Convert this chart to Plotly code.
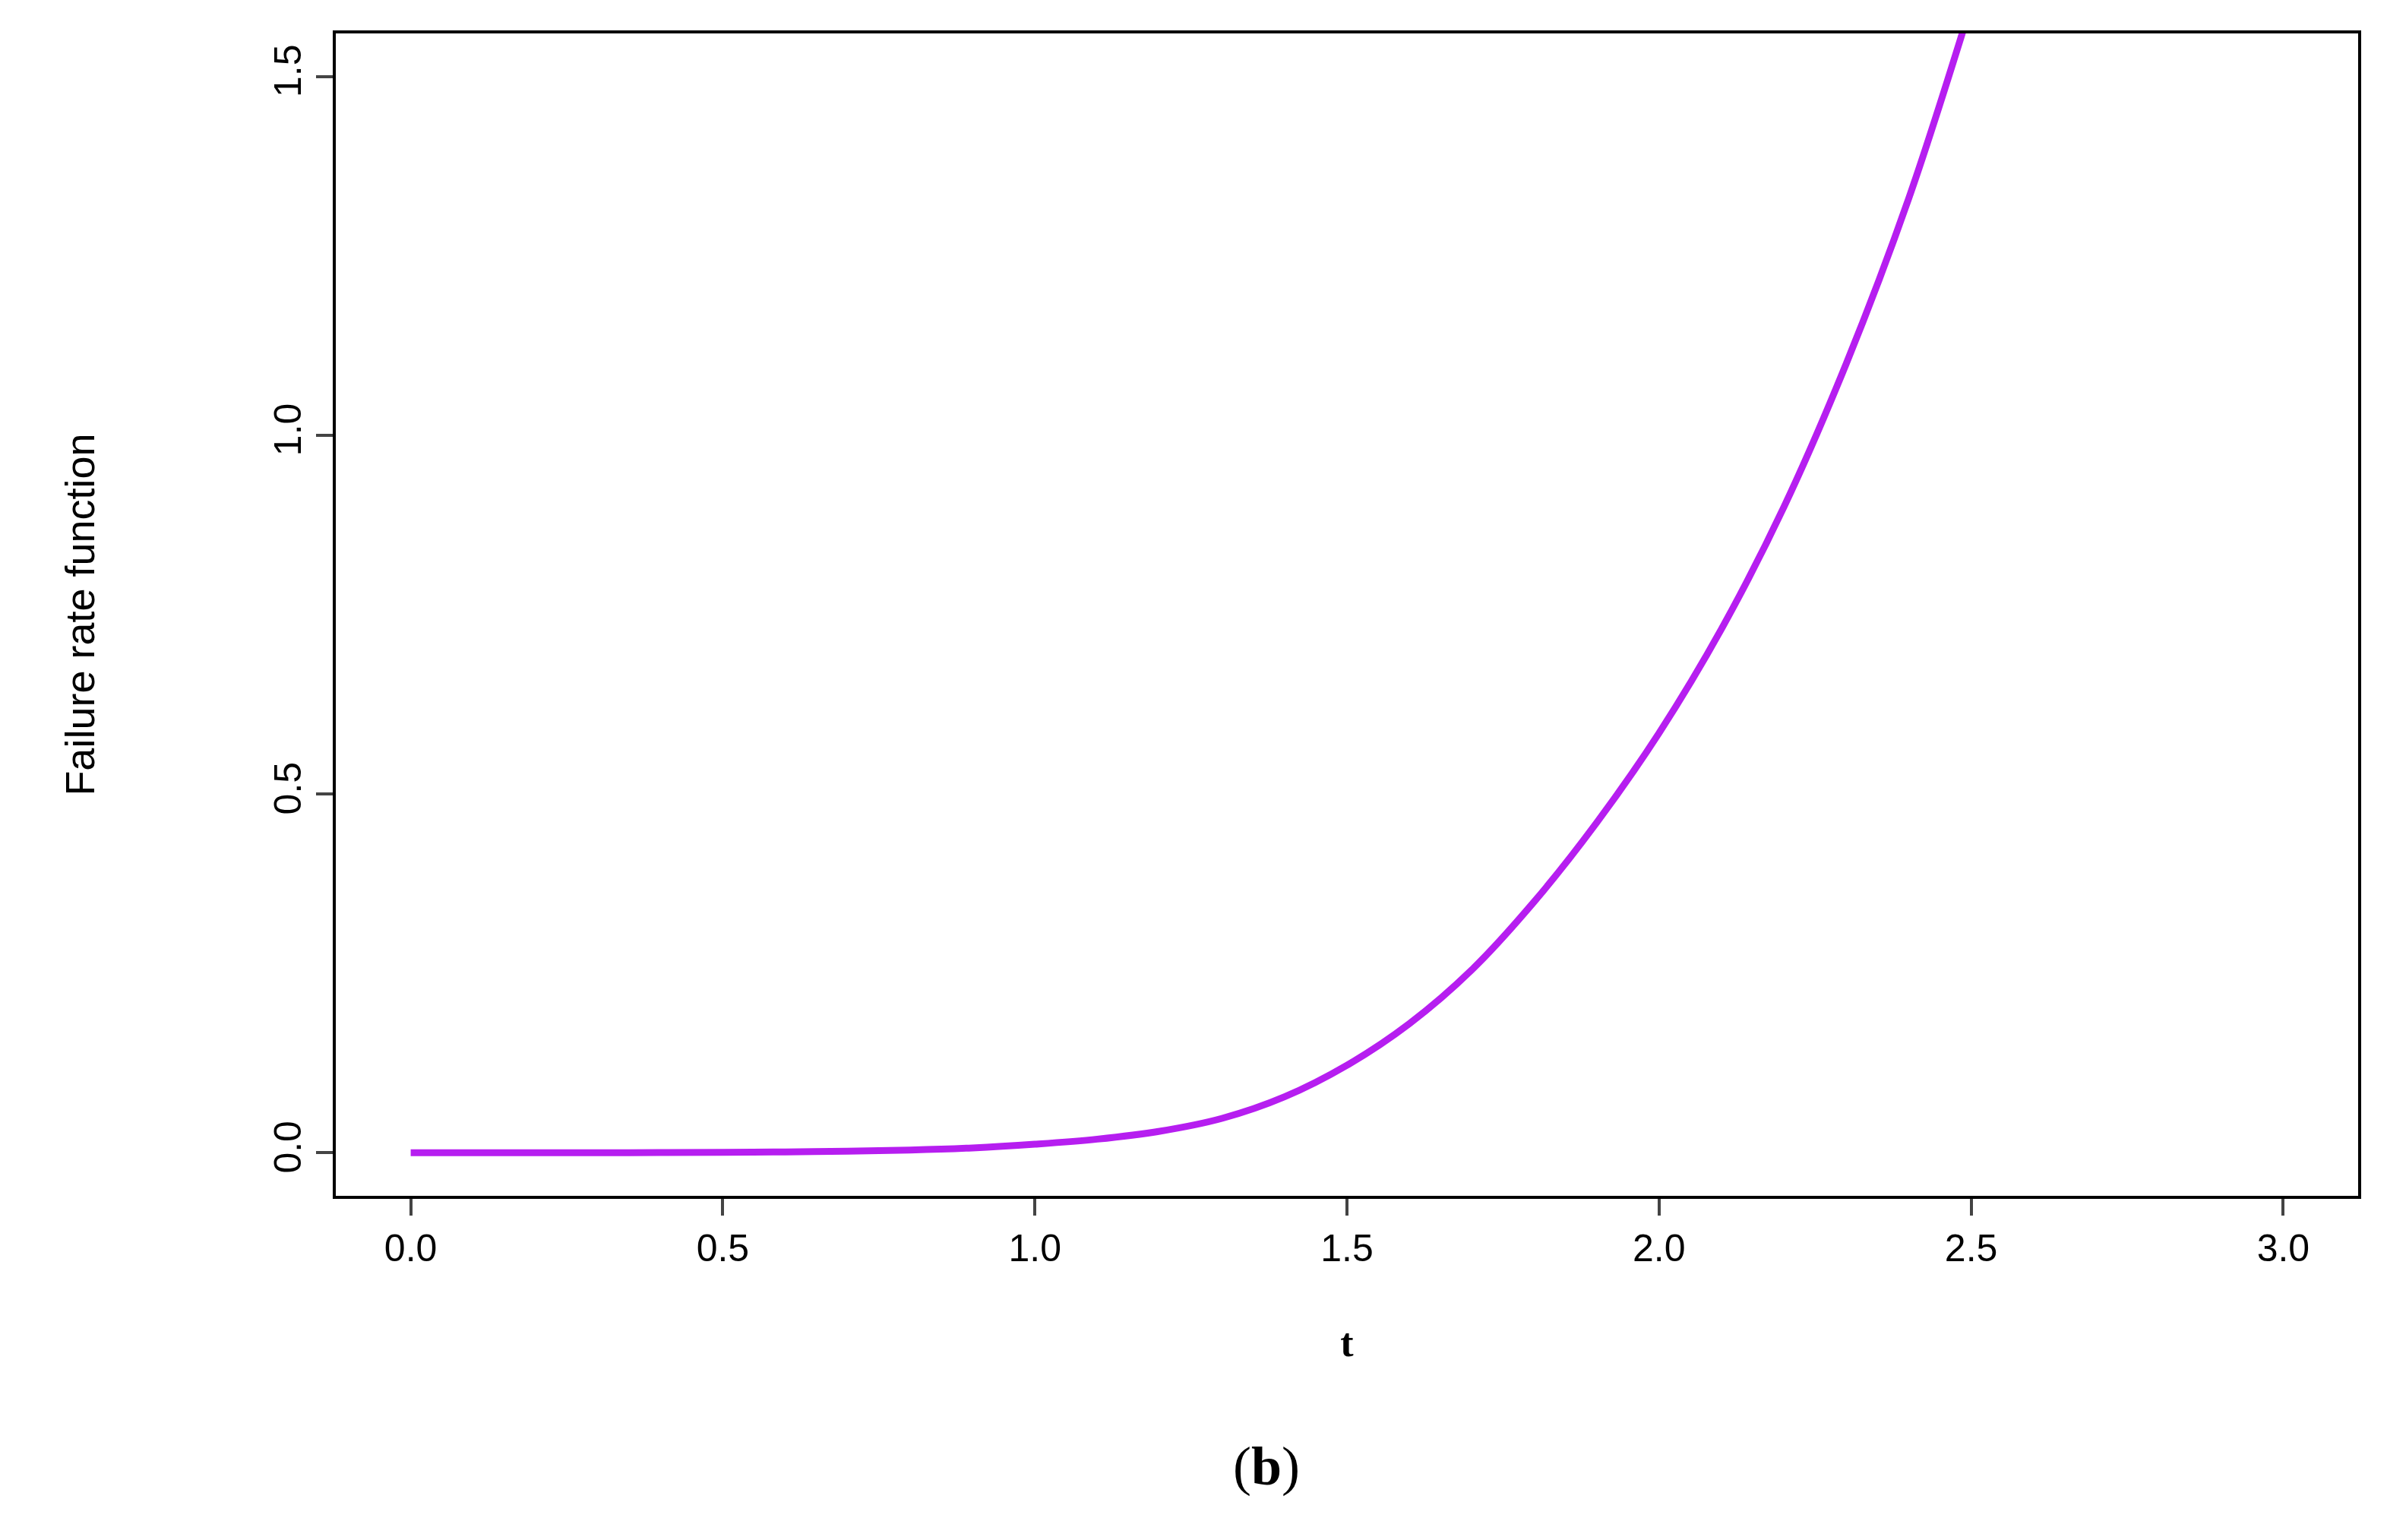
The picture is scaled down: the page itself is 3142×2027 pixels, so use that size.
import plotly.graph_objects as go

t = [0.0, 0.1, 0.2, 0.3, 0.4, 0.5, 0.6, 0.7, 0.8, 0.9, 1.0, 1.1, 1.2, 1.3,
     1.4, 1.5, 1.6, 1.7, 1.8, 1.9, 2.0, 2.1, 2.2, 2.3, 2.4, 2.5]
rate = [0.0, 0.0, 0.0, 0.0001, 0.0003, 0.0006, 0.0012, 0.0022, 0.0038, 0.0068, 0.012,
        0.019, 0.03, 0.048, 0.078, 0.122, 0.18, 0.255, 0.35, 0.46, 0.585, 0.73,
        0.9, 1.1, 1.33, 1.6]
x_ticks = [0.0, 0.5, 1.0, 1.5, 2.0, 2.5, 3.0]
y_ticks = [0.0, 0.5, 1.0, 1.5]

fig = go.Figure()
fig.add_trace(go.Scatter(x=t, y=rate, mode="lines", line_shape="spline",
                         line=dict(color="#b61ef0", width=9)))

axis_common = dict(showline=True, linecolor="black", linewidth=4, mirror=True,
                   ticks="outside", ticklen=22, tickwidth=4, showgrid=False,
                   zeroline=False, tickfont=dict(family="Liberation Sans", size=50, color="black"))
fig.update_xaxes(range=[-0.12, 3.12], tickvals=x_ticks,
                 ticktext=[f"{v:.1f}" for v in x_ticks],
                 title=dict(text="<b>t</b>", font=dict(family="Liberation Serif", size=52, color="black"), standoff=80),
                 **axis_common)
fig.update_yaxes(range=[-0.06, 1.56], tickvals=y_ticks,
                 ticktext=[f"{v:.1f}" for v in y_ticks], tickangle=-90,
                 title=dict(text="Failure rate function", font=dict(family="Liberation Sans", size=54, color="black"), standoff=210),
                 **axis_common)

fig.add_annotation(text="(<b>b</b>)", x=0.46, y=-0.26, xref="paper", yref="paper",
                   showarrow=False, font=dict(family="Liberation Serif", size=72, color="black"))

fig.update_layout(width=3142, height=2027, plot_bgcolor="white", paper_bgcolor="white",
                  showlegend=False, margin=dict(l=434, r=46, t=36, b=461))
fig.write_html("out.html")
